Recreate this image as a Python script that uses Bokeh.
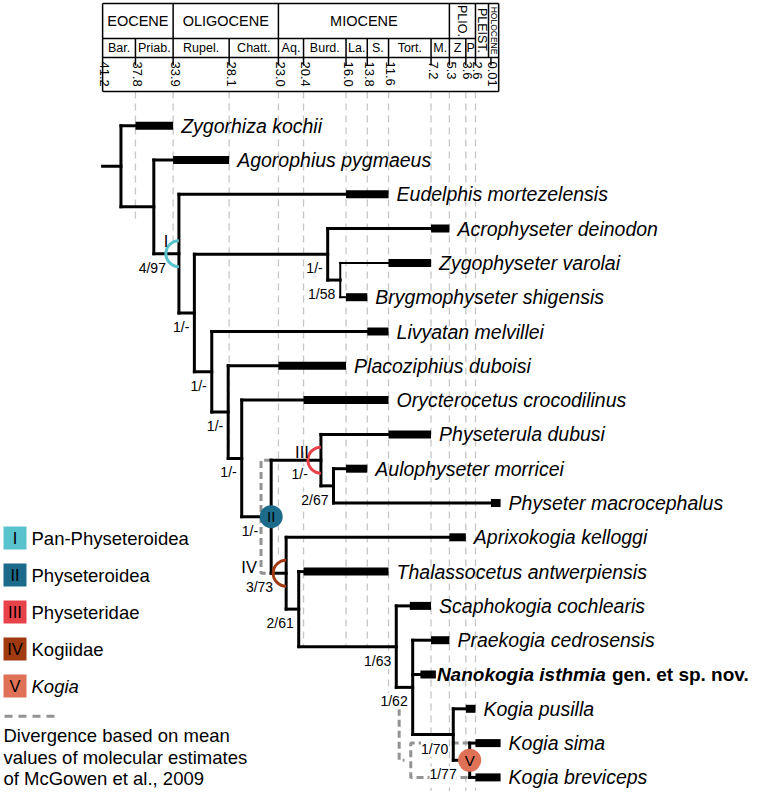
import math
from bokeh.plotting import figure
from bokeh.models import Range1d
from bokeh.core.properties import value
from bokeh.embed import file_html
from bokeh.resources import INLINE

# ------------------------------------------------------------------ data
tip_names = ["Zygorhiza kochii", "Agorophius pygmaeus", "Eudelphis mortezelensis",
             "Acrophyseter deinodon", "Zygophyseter varolai", "Brygmophyseter shigensis",
             "Livyatan melvillei", "Placoziphius duboisi", "Orycterocetus crocodilinus",
             "Physeterula dubusi", "Aulophyseter morricei", "Physeter macrocephalus",
             "Aprixokogia kelloggi", "Thalassocetus antwerpiensis", "Scaphokogia cochlearis",
             "Praekogia cedrosensis", "Nanokogia isthmia", "Kogia pusilla", "Kogia sima",
             "Kogia breviceps"]
tip_fad = [37.8, 33.9, 16.0, 7.2, 11.6, 16.0, 13.8, 23.0, 20.4, 11.6,
           16.0, 1.0, 5.3, 20.4, 9.4, 7.2, 8.3, 3.6, 2.6, 2.6]
tip_lad = [33.9, 28.1, 11.6, 5.3, 7.2, 13.8, 11.6, 16.0, 11.6, 7.2,
           13.8, 0.0, 3.6, 11.6, 7.2, 5.3, 6.7, 2.6, 0.0, 0.0]

node_names = ["root", "n_agor", "n_I", "n_4", "n_acro", "n_zygo", "n_5", "n_6", "n_7",
              "n_II", "n_III", "n_aulo", "n_IV", "n_thal", "n_scaph", "n_prae", "n_kogia", "n_V"]
node_ages = [39.3, 35.9, 33.3, 31.7, 17.9, 16.6, 29.9, 28.2, 26.8,
             23.75, 18.6, 17.3, 22.2, 20.9, 10.8, 9.1, 4.9, 3.2]
node_children = [
    ["Zygorhiza kochii", "n_agor"],
    ["Agorophius pygmaeus", "n_I"],
    ["Eudelphis mortezelensis", "n_4"],
    ["n_acro", "n_5"],
    ["Acrophyseter deinodon", "n_zygo"],
    ["Zygophyseter varolai", "Brygmophyseter shigensis"],
    ["Livyatan melvillei", "n_6"],
    ["Placoziphius duboisi", "n_7"],
    ["Orycterocetus crocodilinus", "n_II"],
    ["n_III", "n_IV"],
    ["Physeterula dubusi", "n_aulo"],
    ["Aulophyseter morricei", "Physeter macrocephalus"],
    ["Aprixokogia kelloggi", "n_thal"],
    ["Thalassocetus antwerpiensis", "n_scaph"],
    ["Scaphokogia cochlearis", "n_prae"],
    ["Praekogia cedrosensis", "Nanokogia isthmia", "n_kogia"],
    ["Kogia pusilla", "n_V"],
    ["Kogia sima", "Kogia breviceps"],
]
node_support = ["", "", "4/97", "1/-", "1/-", "1/58", "1/-", "1/-", "1/-", "1/-",
                "1/-", "2/67", "3/73", "2/61", "1/63", "1/62", "1/70", "1/77"]
root_origin = 41.2

clade_nodes = ["n_I", "n_II", "n_III", "n_IV", "n_V"]
clade_numerals = ["I", "II", "III", "IV", "V"]
clade_names = ["Pan-Physeteroidea", "Physeteroidea", "Physeteridae", "Kogiidae", "Kogia"]
clade_colors = ["#58c3cc", "#1c6b8b", "#e8434b", "#a13a11", "#df7157"]
clade_marker = ["arc", "circle", "arc", "arc", "circle"]

# molecular divergence estimates (McGowen et al., 2009), Ma
mol_ages = [24.8, 10.5, 9.3]
mol_from = ["n_III", "Kogia pusilla", "Kogia sima"]
mol_to = ["n_IV", "n_V", "Kogia breviceps"]

# time scale header
epochs = ["EOCENE", "OLIGOCENE", "MIOCENE", "PLIO.", "PLEIST.", "HOLOCENE"]
epoch_bounds = [41.2, 33.9, 23.0, 5.3, 2.6, 1.25, 0.2]   # schematic column edges
epoch_rows = [1, 1, 1, 1, 2, 2]                           # 2 = spans stage row too
stages = ["Bar.", "Priab.", "Rupel.", "Chatt.", "Aq.", "Burd.", "La.", "S.",
          "Tort.", "M.", "Z", "P"]
stage_bounds = [41.2, 37.8, 33.9, 28.1, 23.0, 20.4, 16.0, 13.8, 11.6, 7.2, 5.3, 3.6, 2.6]
tick_labels = ["41.2", "37.8", "33.9", "28.1", "23.0", "20.4", "16.0", "13.8",
               "11.6", "7.2", "5.3", "3.6", "2.6", "0.01"]
tick_ages = [41.2, 37.8, 33.9, 28.1, 23.0, 20.4, 16.0, 13.8, 11.6, 7.2, 5.3, 3.6, 2.6, 0.01]
holocene_tick_display = 1.0   # the 0.01 tick sits inside the schematic Holocene column
guide_end_rows = [None, 2.75, 3.55, 9.45, 12.5, 15.2, 15.2, 15.2, 16.55,
                  19.4, 19.4, 19.4, 19.4, None]

# ------------------------------------------------------------------ layout helpers
W, H = 763, 792
A0, PXA = 500.1, 9.66       # picture x of 0 Ma, pixels per Ma
R0, PXR = 125.2, 34.3       # picture y of first tip, pixels per tip row


def ax(px):
    return (A0 - px) / PXA


def ry(py):
    return (py - R0) / PXR


def dxa(px):
    return px / PXA


def dyr(py):
    return py / PXR


FONT = value("Liberation Sans")
HDR_TOP, HDR_MID, HDR_STAGE, HDR_TICK, HDR_BOTTOM = 3, 38, 57, 65, 91

tip_row = {n: i for i, n in enumerate(tip_names)}
node_idx = {n: i for i, n in enumerate(node_names)}


def ypos(n):
    if n in tip_row:
        return float(tip_row[n])
    ch = node_children[node_idx[n]]
    return (ypos(ch[0]) + ypos(ch[-1])) / 2.0


def xstart(n):
    if n in tip_row:
        return tip_fad[tip_row[n]]
    return node_ages[node_idx[n]]


def xnode(n):
    return node_ages[node_idx[n]]


p = figure(width=W, height=H, x_range=Range1d(ax(0), ax(W)),
           y_range=Range1d(ry(H), ry(0)), output_backend="svg",
           toolbar_location=None, min_border=0, x_axis_location=None,
           y_axis_location=None, outline_line_color=None,
           background_fill_color="white", border_fill_color="white")
p.xgrid.visible = False
p.ygrid.visible = False

# ------------------------------------------------------------------ guides
gx, gy0, gy1 = [], [], []
for a, e in zip(tick_ages, guide_end_rows):
    if e is None:
        continue
    gx.append(a)
    gy0.append(ry(HDR_BOTTOM))
    gy1.append(e)
p.segment(x0=gx, y0=gy0, x1=gx, y1=gy1, line_color="#c6c6c6", line_width=1.3,
          line_dash="7 5")

# ------------------------------------------------------------------ header table
hx0 = [epoch_bounds[0]] * 4
hx1 = [epoch_bounds[-1], 2.6, epoch_bounds[-1], epoch_bounds[-1]]
hy = [ry(HDR_TOP), ry(HDR_MID), ry(HDR_STAGE), ry(HDR_BOTTOM)]
p.segment(x0=hx0, y0=hy, x1=hx1, y1=hy, line_color="black", line_width=1.5)
vx, vy0, vy1 = [], [], []
for b in [epoch_bounds[0], epoch_bounds[-1]]:
    vx.append(b); vy0.append(ry(HDR_TOP)); vy1.append(ry(HDR_BOTTOM))
for b in epoch_bounds[1:-1]:
    vx.append(b); vy0.append(ry(HDR_TOP)); vy1.append(ry(HDR_STAGE))
for b in stage_bounds[1:-1]:
    if b in epoch_bounds:
        continue
    vx.append(b); vy0.append(ry(HDR_MID)); vy1.append(ry(HDR_STAGE))
tick_pos = tick_ages[:-1] + [holocene_tick_display]
for b in tick_pos[1:]:
    vx.append(b); vy0.append(ry(HDR_STAGE)); vy1.append(ry(HDR_TICK))
p.segment(x0=vx, y0=vy0, x1=vx, y1=vy1, line_color="black", line_width=1.5)

for name, b0, b1, nr in zip(epochs, epoch_bounds[:-1], epoch_bounds[1:], epoch_rows):
    cx = (b0 + b1) / 2
    cy = ry((HDR_TOP + HDR_MID) / 2) if nr == 1 else ry((HDR_TOP + HDR_STAGE) / 2)
    if (b0 - b1) * PXA > 60:
        p.text(x=[cx], y=[cy], text=[name], text_align="center", text_baseline="middle",
               text_font=FONT, text_font_size="14.5px", text_color="black")
    else:
        fs = "12.5px" if name != "HOLOCENE" else "8.5px"
        p.text(x=[cx], y=[cy], text=[name], angle=-math.pi / 2, text_align="center",
               text_baseline="middle", text_font=FONT, text_font_size=fs, text_color="black")

sx = [(a + b) / 2 for a, b in zip(stage_bounds[:-1], stage_bounds[1:])]
p.text(x=sx, y=[ry((HDR_MID + HDR_STAGE) / 2)] * len(sx), text=stages, text_align="center",
       text_baseline="middle", text_font=FONT, text_font_size="12.5px", text_color="black")

p.text(x=[t - dxa(2) for t in tick_pos], y=[ry(HDR_TICK - 4)] * len(tick_pos), text=tick_labels,
       angle=-math.pi / 2, text_align="left", text_baseline="middle", text_font=FONT,
       text_font_size="13px", text_color="black")

# ------------------------------------------------------------------ molecular brackets
for ma, a, b, k in zip(mol_ages, mol_from, mol_to, range(3)):
    ya, yb = ypos(a), ypos(b)
    if k == 0:
        ret = xnode("n_II")
        xs, ys = [ret, ma, ma, ret], [ya, ya, yb, yb]
    elif k == 1:
        xs, ys = [ma, ma, ma - 0.55], [ya, yb, yb]
    else:
        ret = xnode("n_V")
        xs, ys = [ret, ma, ma, ret], [ya, ya, yb, yb]
    p.line(x=xs, y=ys, line_color="#939393", line_width=3, line_dash="7 4")

# ------------------------------------------------------------------ tree branches
bx0, by0, bx1, by1, bw = [], [], [], [], []
for n, a, ch in zip(node_names, node_ages, node_children):
    w = 2 if n == "n_zygo" else 3
    ys = [ypos(c) for c in ch]
    bx0.append(a); bx1.append(a); by0.append(min(ys)); by1.append(max(ys)); bw.append(w)
    for c in ch:
        bx0.append(a); bx1.append(xstart(c)); by0.append(ypos(c)); by1.append(ypos(c)); bw.append(w)
bx0.append(root_origin); bx1.append(xnode("root"))
by0.append(ypos("root")); by1.append(ypos("root")); bw.append(3)
p.segment(x0=bx0, y0=by0, x1=bx1, y1=by1, line_color="black", line_width=bw,
          line_cap="square")

# stratigraphic ranges
rows = list(range(len(tip_names)))
p.segment(x0=tip_fad, y0=rows, x1=tip_lad, y1=rows, line_color="black", line_width=8,
          line_cap="butt")

# tip labels
nk = tip_row["Nanokogia isthmia"]
ix = [i for i in rows if i != nk]
p.text(x=[tip_lad[i] - dxa(8) for i in ix], y=[float(i) for i in ix],
       text=[tip_names[i] for i in ix], text_align="left", text_baseline="middle",
       text_font=FONT, text_font_size="19.5px", text_font_style="italic", text_color="black")
p.text(x=[tip_lad[nk] - dxa(1)], y=[float(nk)], text=[tip_names[nk]], text_align="left",
       text_baseline="middle", text_font=FONT, text_font_size="19px",
       text_font_style="bold italic", text_color="black")
p.text(x=[tip_lad[nk] - dxa(1 + 175)], y=[float(nk)], text=["gen. et sp. nov."],
       text_align="left", text_baseline="middle", text_font=FONT, text_font_size="19px",
       text_font_style="bold", text_color="black")

# ------------------------------------------------------------------ clade markers
num_off = {"I": (-13, -13), "III": (-19, -8), "IV": (-37, -6)}
for n, num, col, mk in zip(clade_nodes, clade_numerals, clade_colors, clade_marker):
    x, y = xnode(n), ypos(n)
    if mk == "arc":
        p.arc(x=[x], y=[y], radius=13, radius_units="screen", start_angle=math.pi / 2,
              end_angle=3 * math.pi / 2, line_color=col, line_width=3)
        dx, dy = num_off[num]
        p.text(x=[x - dxa(dx)], y=[y + dyr(dy)], text=[num], text_align="center",
               text_baseline="middle", text_font=FONT, text_font_size="16.5px",
               text_color="black")
    else:
        p.scatter(x=[x], y=[y], marker="circle", size=23, fill_color=col, line_color=None)
        p.text(x=[x], y=[y], text=[num], text_align="center", text_baseline="middle",
               text_font=FONT, text_font_size="15px", text_color="black")

# support values
spx, spy, spt = [], [], []
for n, a, s in zip(node_names, node_ages, node_support):
    if not s:
        continue
    off = 13 if n in clade_nodes else 5
    spx.append(a + dxa(off)); spy.append(ypos(n) + dyr(14)); spt.append(s)
p.text(x=spx, y=spy, text=spt, text_align="right", text_baseline="middle", text_font=FONT,
       text_font_size="14px", text_color="black", background_fill_color="white")

# ------------------------------------------------------------------ legend
leg_y = [ry(537.5 + 37 * k) for k in range(len(clade_names))]
p.scatter(x=[ax(14.5)] * 5, y=leg_y, marker="square", size=23, fill_color=clade_colors,
          line_color=None)
p.text(x=[ax(14.5)] * 5, y=leg_y, text=clade_numerals, text_align="center",
       text_baseline="middle", text_font=FONT, text_font_size="16.5px", text_color="black")
p.text(x=[ax(31)] * 4, y=leg_y[:4], text=clade_names[:4], text_align="left",
       text_baseline="middle", text_font=FONT, text_font_size="18.5px", text_color="black")
p.text(x=[ax(31)], y=[leg_y[4]], text=[clade_names[4]], text_align="left",
       text_baseline="middle", text_font=FONT, text_font_size="18.5px",
       text_font_style="italic", text_color="black")
p.line(x=[ax(4)], y=[ry(715.7)], line_color="#939393", line_width=3) if False else None
p.line(x=[ax(4), ax(57)], y=[ry(715.7)] * 2, line_color="#939393", line_width=3,
       line_dash="8 6")
desc = ["Divergence based on mean", "values of molecular estimates", "of McGowen et al., 2009"]
p.text(x=[ax(3)] * 3, y=[ry(735 + 21.7 * k) for k in range(3)], text=desc, text_align="left",
       text_baseline="middle", text_font=FONT, text_font_size="18.5px", text_color="black")

open("out.html", "w").write(file_html(p, INLINE))
